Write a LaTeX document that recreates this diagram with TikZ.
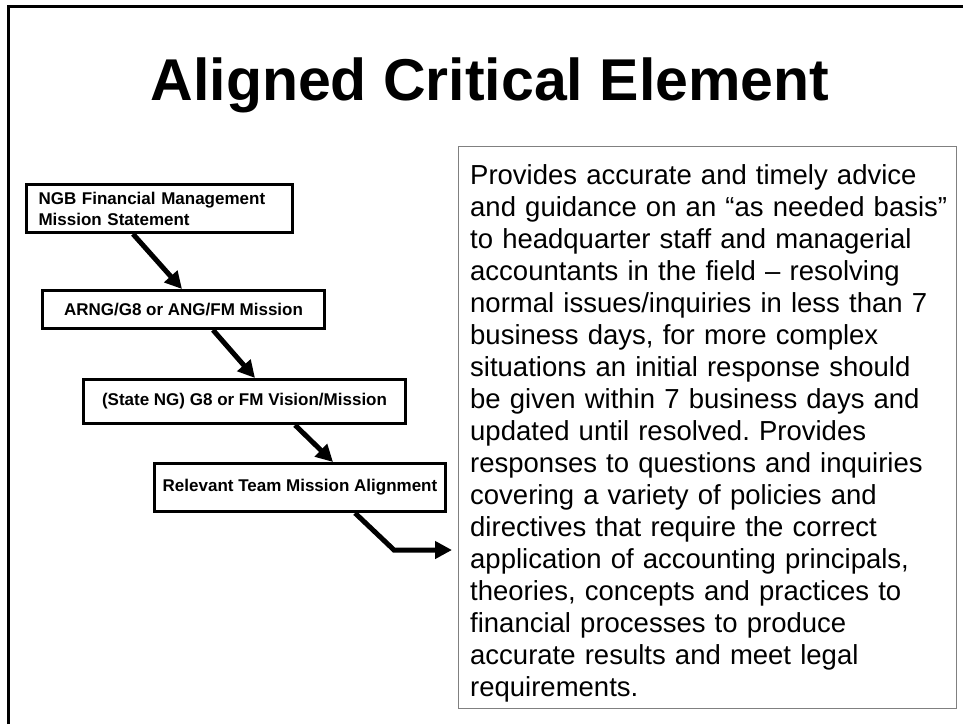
\documentclass[tikz,border=0pt]{standalone}
\usepackage{fontspec}
\setmainfont{Liberation Sans}
\usetikzlibrary{shapes,arrows.meta}
\frenchspacing

\begin{document}
\begin{tikzpicture}[x=1pt, y=-1pt,
        mission/.style={draw, line width=3pt, anchor=north west, inner sep=0pt,
                font=\fontsize{17}{21}\selectfont\bfseries},
        flow/.style={line width=5pt, -{Triangle[length=17pt,width=17pt]}}]
        % Page frame
        \useasboundingbox (0,0) rectangle (963,724);
        \draw [line width=3pt] (8,724) -- (8,6) -- (963,6);
        % Title
        \node [anchor=base, font=\fontsize{59}{70}\selectfont\bfseries] (title) at (490,100) {Aligned Critical Element};
        % Mission boxes
        \node [mission, minimum height=48pt, text width=242pt, inner xsep=12pt, align=left] (ngb) at (25,183) {NGB Financial Management\\Mission Statement};
        \node [mission, minimum width=282pt, minimum height=38pt] (arng) at (41,289) {ARNG/G8 or ANG/FM Mission};
        \node [mission, minimum width=322pt, minimum height=44pt] (state) at (82,378) {(State NG) G8 or FM Vision/Mission};
        \node [mission, minimum width=291pt, minimum height=48pt] (team) at (153,462) {Relevant Team Mission Alignment};
        % Critical element text
        \node [draw=gray, line width=1.2pt, anchor=north west, minimum width=498pt, minimum height=562pt] (element) at (458,146) {};
        \node [anchor=north west, inner sep=0pt, text width=486pt, align=left,
                font=\fontsize{27.5}{32}\selectfont] (elementtext) at ([xshift=12pt,yshift=-18pt]element.north west)
                {Provides accurate and timely advice\\
                and guidance on an “as needed basis”\\
                to headquarter staff and managerial\\
                accountants in the field – resolving\\
                normal issues/inquiries in less than 7\\
                business days, for more complex\\
                situations an initial response should\\
                be given within 7 business days and\\
                updated until resolved. Provides\\
                responses to questions and inquiries\\
                covering a variety of policies and\\
                directives that require the correct\\
                application of accounting principals,\\
                theories, concepts and practices to\\
                financial processes to produce\\
                accurate results and meet legal\\
                requirements.};
        % Arrows
        \draw [flow] ([xshift=108pt]ngb.south west) -- ([xshift=141pt]arng.north west);
        \draw [flow] ([xshift=172pt]arng.south west) -- ([xshift=173pt]state.north west);
        \draw [flow] ([xshift=213pt]state.south west) -- ([xshift=180pt]team.north west);
        \coordinate (bend) at (394,550);
        \draw [flow, shorten >=6pt] ([xshift=202pt]team.south west) -- (bend) -- (bend -| element.west);
\end{tikzpicture}
\end{document}
